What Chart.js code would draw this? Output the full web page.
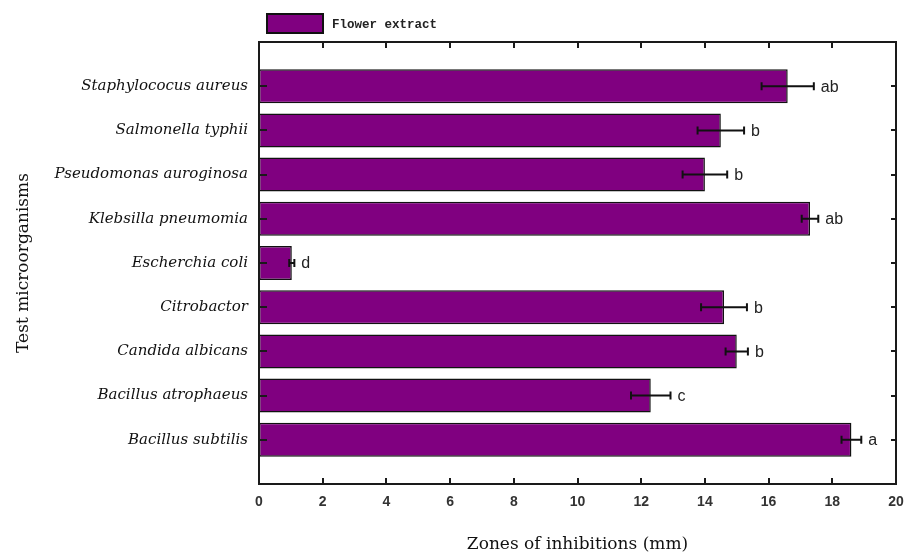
<!DOCTYPE html>
<html>
<head>
<meta charset="utf-8">
<script src="https://cdn.jsdelivr.net/npm/chart.js@4"></script>
<style>
  html, body { margin: 0; padding: 0; background: #ffffff; }
  #wrap { width: 905px; height: 557px; }
</style>
</head>
<body>
<div id="wrap"><canvas id="chart" width="905" height="557"></canvas></div>
<script>
// Test organisms, listed top to bottom
const organisms = [
  'Staphylococus aureus',
  'Salmonella typhii',
  'Pseudomonas auroginosa',
  'Klebsilla pneumomia',
  'Escherchia coli',
  'Citrobactor',
  'Candida albicans',
  'Bacillus atrophaeus',
  'Bacillus subtilis'
];
// Mean zone of inhibition (mm) for the flower extract
const zoneMeans = [16.6, 14.5, 14.0, 17.3, 1.03, 14.6, 15.0, 12.3, 18.6];
// Standard deviation (mm)
const zoneSD = [0.82, 0.73, 0.7, 0.26, 0.08, 0.72, 0.35, 0.62, 0.31];
// Significance group letters
const groupLetters = ['ab', 'b', 'b', 'ab', 'd', 'b', 'b', 'c', 'a'];
// Horizontal axis ticks
const xTicks = [0, 2, 4, 6, 8, 10, 12, 14, 16, 18, 20];
const seriesName = 'Flower extract';
const barColor = '#800080';

// One empty slot above and below keeps a full row of space at both ends
const rowLabels = [''].concat(organisms, ['']);
const rowValues = [null].concat(zoneMeans, [null]);

const inkColor = '#1a1a1a';

const decorPlugin = {
  id: 'decor',
  afterDatasetsDraw(chart) {
    const { ctx, chartArea: a, scales: { x, y } } = chart;
    ctx.save();

    // error bars and group letters
    ctx.strokeStyle = '#111';
    ctx.lineWidth = 2;
    ctx.fillStyle = '#222';
    ctx.font = '16px "Liberation Sans", Arial, sans-serif';
    ctx.textAlign = 'left';
    ctx.textBaseline = 'middle';
    organisms.forEach((name, i) => {
      const py = y.getPixelForValue(i + 1);
      const x1 = x.getPixelForValue(zoneMeans[i] - zoneSD[i]);
      const x2 = x.getPixelForValue(zoneMeans[i] + zoneSD[i]);
      ctx.beginPath();
      ctx.moveTo(x1, py); ctx.lineTo(x2, py);
      ctx.moveTo(x1, py - 4); ctx.lineTo(x1, py + 4);
      ctx.moveTo(x2, py - 4); ctx.lineTo(x2, py + 4);
      ctx.stroke();
      ctx.fillText(groupLetters[i], x2 + 7, py + 1);
    });

    // frame around the plot
    ctx.strokeStyle = inkColor;
    ctx.lineWidth = 2;
    ctx.strokeRect(a.left, a.top, a.width, a.height);

    // inward tick marks on all four sides
    ctx.lineWidth = 2;
    ctx.beginPath();
    xTicks.slice(1, -1).forEach(v => {
      const px = Math.round(x.getPixelForValue(v));
      ctx.moveTo(px, a.bottom); ctx.lineTo(px, a.bottom - 6);
      ctx.moveTo(px, a.top); ctx.lineTo(px, a.top + 6);
    });
    organisms.forEach((name, i) => {
      const py = Math.round(y.getPixelForValue(i + 1));
      ctx.moveTo(a.left, py); ctx.lineTo(a.left + 8, py);
      ctx.moveTo(a.right, py); ctx.lineTo(a.right - 5, py);
    });
    ctx.stroke();
    ctx.restore();
  },
  afterDraw(chart) {
    // series key above the plot
    const { ctx, chartArea: a } = chart;
    const ds = chart.data.datasets[0];
    const bx = a.left + 8, by = a.top - 28;
    ctx.save();
    ctx.fillStyle = ds.backgroundColor;
    ctx.fillRect(bx, by, 56, 19);
    ctx.strokeStyle = '#111';
    ctx.lineWidth = 2;
    ctx.strokeRect(bx, by, 56, 19);
    ctx.fillStyle = '#222';
    ctx.font = 'bold 12.5px "Liberation Mono", "DejaVu Sans Mono", monospace';
    ctx.textBaseline = 'middle';
    ctx.textAlign = 'left';
    ctx.fillText(ds.label, bx + 65, by + 11);
    ctx.restore();
  }
};

new Chart(document.getElementById('chart'), {
  type: 'bar',
  data: {
    labels: rowLabels,
    datasets: [{
      label: seriesName,
      data: rowValues,
      backgroundColor: barColor,
      borderColor: '#111',
      borderWidth: 1.5,
      borderSkipped: false,
      categoryPercentage: 1,
      barPercentage: 0.77
    }]
  },
  options: {
    indexAxis: 'y',
    responsive: false,
    animation: false,
    layout: { padding: { top: 42, right: 9, bottom: 0, left: 0 } },
    plugins: {
      legend: { display: false },
      tooltip: { enabled: false }
    },
    scales: {
      x: {
        type: 'linear',
        min: 0,
        max: 20,
        afterBuildTicks(scale) { scale.ticks = xTicks.map(v => ({ value: v })); },
        afterFit(scale) { scale.height = 73; scale.paddingLeft = 0; scale.paddingRight = 0; },
        grid: { display: false, drawTicks: false },
        border: { display: false },
        ticks: {
          padding: 10,
          color: '#333',
          font: { family: '"Liberation Sans", Arial, sans-serif', size: 14, weight: 'bold' }
        },
        title: {
          display: true,
          text: 'Zones of inhibitions (mm)',
          color: '#111',
          padding: { top: 0, bottom: 2 },
          font: { family: '"DejaVu Serif", serif', size: 17 }
        }
      },
      y: {
        type: 'category',
        offset: false,
        afterFit(scale) { scale.width = 259; scale.paddingTop = 0; scale.paddingBottom = 0; },
        grid: { display: false, drawTicks: false },
        border: { display: false },
        ticks: {
          autoSkip: false,
          padding: 11,
          color: '#111',
          font: { family: '"DejaVu Serif", serif', size: 15, style: 'italic' }
        },
        title: {
          display: true,
          text: 'Test microorganisms',
          color: '#111',
          padding: { top: 13, bottom: 0 },
          font: { family: '"DejaVu Serif", serif', size: 17 }
        }
      }
    }
  },
  plugins: [decorPlugin]
});
</script>
</body>
</html>
